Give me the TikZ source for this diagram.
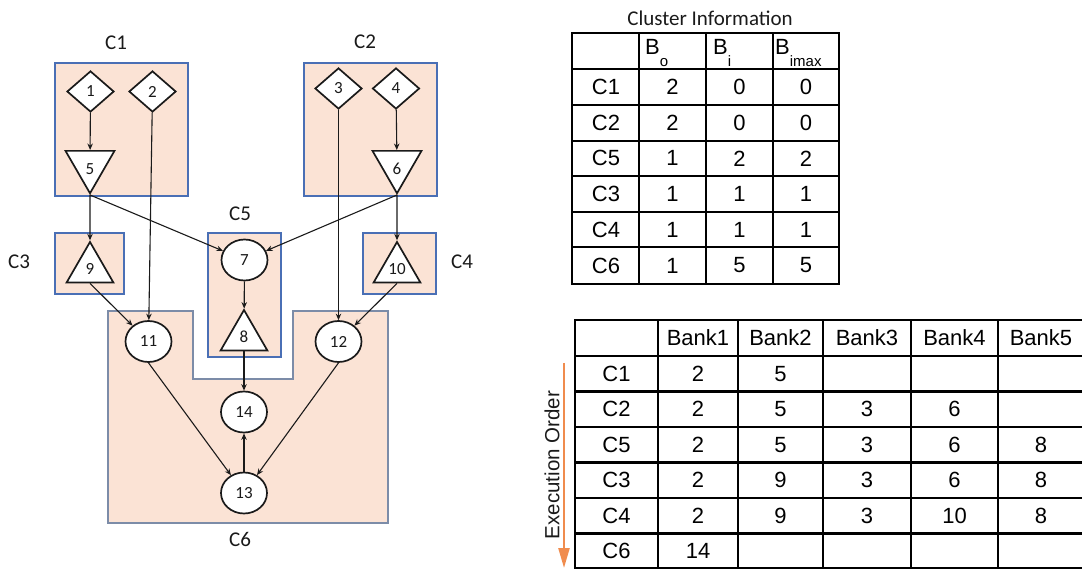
\documentclass[tikz,border=0pt]{standalone}
\usepackage{fontspec}
\newfontfamily\calib{Carlito}
\newfontfamily\arial{Liberation Sans}
\usetikzlibrary{shapes.geometric,arrows.meta}
\definecolor{peach}{HTML}{FBE3D5}
\definecolor{clblue}{HTML}{4A6FB5}
\definecolor{cgrey}{HTML}{7C8CA8}
\definecolor{ink}{HTML}{1A1A1A}
\definecolor{exorange}{HTML}{F08C4E}
\begin{document}
\begin{tikzpicture}[x=1pt,y=-1pt,
  cluster/.style={fill=peach,draw=clblue,line width=1.4pt},
  clabel/.style={font=\calib\fontsize{21}{25}\selectfont,text=ink,inner sep=0},
  gnode/.style={draw=ink,fill=white,line width=1.7pt,inner sep=0,
    font=\calib\fontsize{17}{19}\selectfont,text=ink},
  dia/.style={gnode,diamond,minimum width=47pt,minimum height=41pt},
  circ/.style={gnode,ellipse,minimum width=46pt,minimum height=41pt},
  tri/.style={gnode,regular polygon,regular polygon sides=3,minimum size=54pt},
  vtri/.style={tri,shape border rotate=180,text height=20pt,text depth=0pt},
  link/.style={draw=ink,line width=1.1pt,-{Stealth[length=6.5pt,width=5.5pt]}},
  grid/.style={draw=black,line width=2.2pt,line cap=rect},
  cell/.style={font=\arial\fontsize{22}{26}\selectfont,inner sep=0},
  ttl/.style={font=\calib\fontsize{21}{25}\selectfont,inner sep=0,text=ink}
]
\clip (0,0) rectangle (1082,569);

% ---------- cluster regions ----------
\draw[cluster] (55,63) rectangle (188,196);
\draw[cluster] (304,63) rectangle (437,196);
\draw[cluster] (55,233) rectangle (124,294);
\draw[cluster] (363,233) rectangle (436,294);
\draw[cluster] (208,233) rectangle (281,357);
\draw[fill=peach,draw=cgrey,line width=1.4pt]
  (108,311) -- (193,311) -- (193,379) -- (293,379) -- (293,311)
  -- (388,311) -- (388,523) -- (108,523) -- cycle;

\node[clabel] (lc1) at (116,43) {C1};
\node[clabel] (lc2) at (365,42) {C2};
\node[clabel] (lc5) at (240,214) {C5};
\node[clabel] (lc3) at (19,262) {C3};
\node[clabel] (lc4) at (462,262) {C4};
\node[clabel] (lc6) at (240,539) {C6};

% ---------- task graph ----------
\node[dia] (n1) at (90.5,91.5) {1};
\node[dia] (n2) at (152.5,91.5) {2};
\node[dia] (n3) at (338.5,88.5) {3};
\node[dia] (n4) at (396,88.5) {4};
\node[vtri] (n5) at (90,165) {5};
\node[vtri] (n6) at (397,165) {6};
\node[tri] (n9) at (90,269) {9};
\node[tri] (n10) at (397,269) {10};
\node[circ] (n7) at (244.5,260) {7};
\node[tri] (n8) at (244,337) {8};
\node[circ] (n11) at (148.5,341.5) {11};
\node[circ] (n12) at (338.5,341.5) {12};
\node[circ] (n14) at (244,412) {14};
\node[circ] (n13) at (244,493) {13};

\draw[link] (n1) -- (n5);
\draw[link] (n2) -- (n11);
\draw[link] (n4) -- (n6);
\draw[link] (n3) -- (n12);
\draw[link] (n5) -- (n9);
\draw[link] (n5.corner 1) -- (n7);
\draw[link] (n6.corner 1) -- (n7);
\draw[link] (n6) -- (n10);
\draw[link] (n9.side 2) -- (n11);
\draw[link] (n10.side 2) -- (n12);
\draw[link] (n7) -- (n8);
\draw[link] (n8.side 2) -- (n14);
\draw[link] (n11.south) -- (n13);
\draw[link] (n12.south) -- (n13);
\draw[link] (n13) -- (n14);

% ---------- cluster information table ----------
\node[ttl] (title) at (710,18) {Cluster Information};
\foreach \x in {572,639,706,773,839} \draw[grid] (\x,33) -- (\x,284);
\foreach \y in {33,69,105,141,176,212,247,284} \draw[grid] (572,\y) -- (839,\y);
\node[cell,anchor=base west] (hbo) at (645,55)
  {B\raisebox{-12pt}{\fontsize{15}{15}\selectfont o}};
\node[cell,anchor=base west] (hbi) at (713,55)
  {B\raisebox{-12pt}{\fontsize{15}{15}\selectfont i}};
\node[cell,anchor=base west] (hbm) at (775,55)
  {B\raisebox{-12pt}{\fontsize{15}{15}\selectfont imax}};
\foreach \lab/\a/\b/\c [count=\r] in
  {C1/2/0/0, C2/2/0/0, C5/1/2/2, C3/1/1/1, C4/1/1/1, C6/1/5/5}{
  \pgfmathsetmacro{\yy}{87+35.7*(\r-1)}
  \node[cell] (ci-\r-0) at (606,\yy) {\lab};
  \node[cell] (ci-\r-1) at (672.5,\yy) {\a};
  \node[cell] (ci-\r-2) at (739.5,\yy) {\b};
  \node[cell] (ci-\r-3) at (806,\yy) {\c};
}

% ---------- bank allocation table ----------
\foreach \x in {575,658,738,823,911,998} \draw[grid] (\x,320) -- (\x,569);
\foreach \y in {320,356,391.5,427,462.5,498,533.5,568.5} \draw[grid] (575,\y) -- (1090,\y);
\foreach \t [count=\c] in {Bank1,Bank2,Bank3,Bank4,Bank5}{
  \pgfmathsetmacro{\xx}{{698,780.5,867,954.5,1041}[\c-1]}
  \node[cell] (bh-\c) at (\xx,338) {\t};
}
\foreach \lab [count=\r] in {C1,C2,C5,C3,C4,C6}{
  \pgfmathsetmacro{\yy}{373.75+35.45*(\r-1)}
  \node[cell] (br-\r) at (616.5,\yy) {\lab};
}
\foreach \c/\r/\v in {1/1/2, 2/1/5,
    1/2/2, 2/2/5, 3/2/3, 4/2/6,
    1/3/2, 2/3/5, 3/3/3, 4/3/6, 5/3/8,
    1/4/2, 2/4/9, 3/4/3, 4/4/6, 5/4/8,
    1/5/2, 2/5/9, 3/5/3, 4/5/10, 5/5/8,
    1/6/14}{
  \pgfmathsetmacro{\xx}{{698,780.5,867,954.5,1041}[\c-1]}
  \pgfmathsetmacro{\yy}{373.75+35.45*(\r-1)}
  \node[cell] (bv-\r-\c) at (\xx,\yy) {\v};
}

% ---------- execution order arrow ----------
\coordinate (eotop) at (564,363);
\coordinate (eobot) at (564,568);
\draw[exorange,line width=2.4pt,-{Triangle[length=20pt,width=11pt]}] (eotop) -- (eobot);
\node[font=\arial\fontsize{20.5}{24}\selectfont,rotate=90,inner sep=0,text=ink] (eolab)
  at (552,465) {Execution Order};
\end{tikzpicture}
\end{document}
